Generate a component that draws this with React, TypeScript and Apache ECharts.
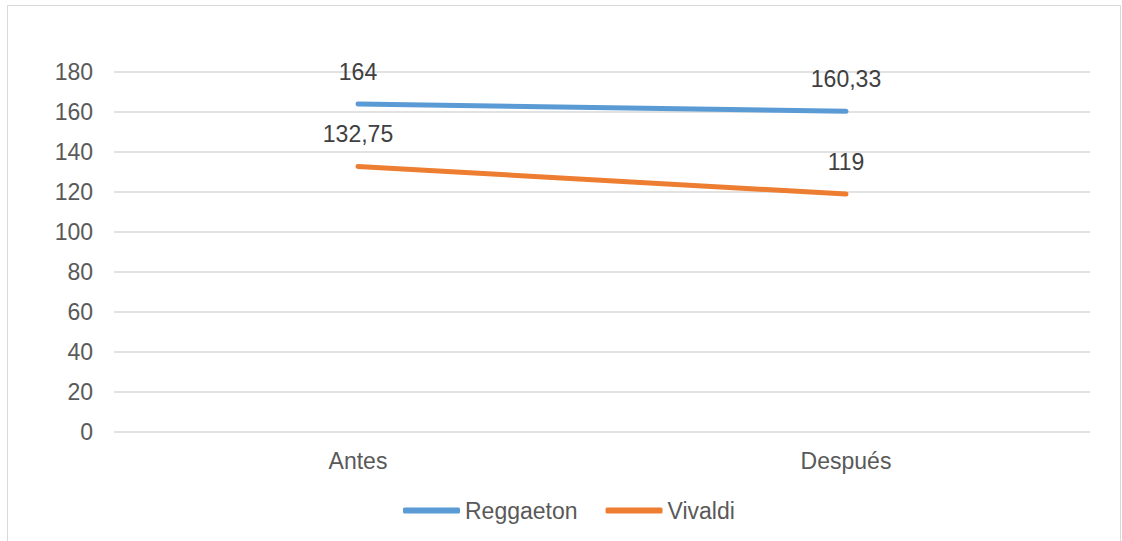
import React, { useEffect, useRef } from "react";
import * as echarts from "echarts";

const categories = ["Antes", "Después"];
const reggaeton = [164, 160.33];
const vivaldi = [132.75, 119];
const seriesNames = ["Reggaeton", "Vivaldi"];

const fmt = (v: number) => String(v).replace(".", ",");

export default function App() {
  const ref = useRef<HTMLDivElement>(null);
  useEffect(() => {
    const chart = echarts.init(ref.current!, null, { renderer: "svg" });
    const font = "Liberation Sans, Arial, sans-serif";
    const mkSeries = (name: string, data: number[], color: string) => ({
      name,
      type: "line",
      data,
      symbol: "circle",
      symbolSize: 2,
      showSymbol: true,
      color,
      itemStyle: { color },
      lineStyle: { width: 5, cap: "round", color },
      label: {
        show: true,
        position: "top",
        distance: 20,
        fontSize: 23,
        color: "#404040",
        fontFamily: font,
        formatter: (p: any) => fmt(p.value),
      },
    });
    chart.setOption({
      animation: false,
      textStyle: { fontFamily: font },
      graphic: [
        {
          type: "rect",
          shape: { x: 7.5, y: 5.5, width: 1113, height: 600 },
          style: { fill: "none", stroke: "#d9d9d9", lineWidth: 1 },
          silent: true,
        },
      ],
      grid: { left: 114, right: 32, top: 72, bottom: 109, containLabel: false },
      legend: {
        data: seriesNames,
        left: 398,
        top: 494,
        icon: "roundRect",
        itemWidth: 57,
        itemHeight: 6,
        itemGap: 28,
        textStyle: { fontSize: 23, color: "#595959", fontFamily: font },
      },
      xAxis: {
        type: "category",
        data: categories,
        boundaryGap: true,
        axisLine: { show: false },
        axisTick: { show: false },
        axisLabel: { fontSize: 23, color: "#595959", margin: 17, fontFamily: font },
      },
      yAxis: {
        type: "value",
        min: 0,
        max: 180,
        interval: 20,
        axisLine: { show: false },
        axisTick: { show: false },
        axisLabel: { fontSize: 23, color: "#595959", margin: 21, fontFamily: font },
        splitLine: { lineStyle: { color: "#d9d9d9", width: 1.5 } },
      },
      series: [
        mkSeries(seriesNames[0], reggaeton, "#5B9BD5"),
        mkSeries(seriesNames[1], vivaldi, "#ED7D31"),
      ],
    });
    return () => chart.dispose();
  }, []);
  return (
    <div
      ref={ref}
      style={{ position: "absolute", left: 0, top: 0, width: 1122, height: 541, background: "#fff" }}
    />
  );
}
